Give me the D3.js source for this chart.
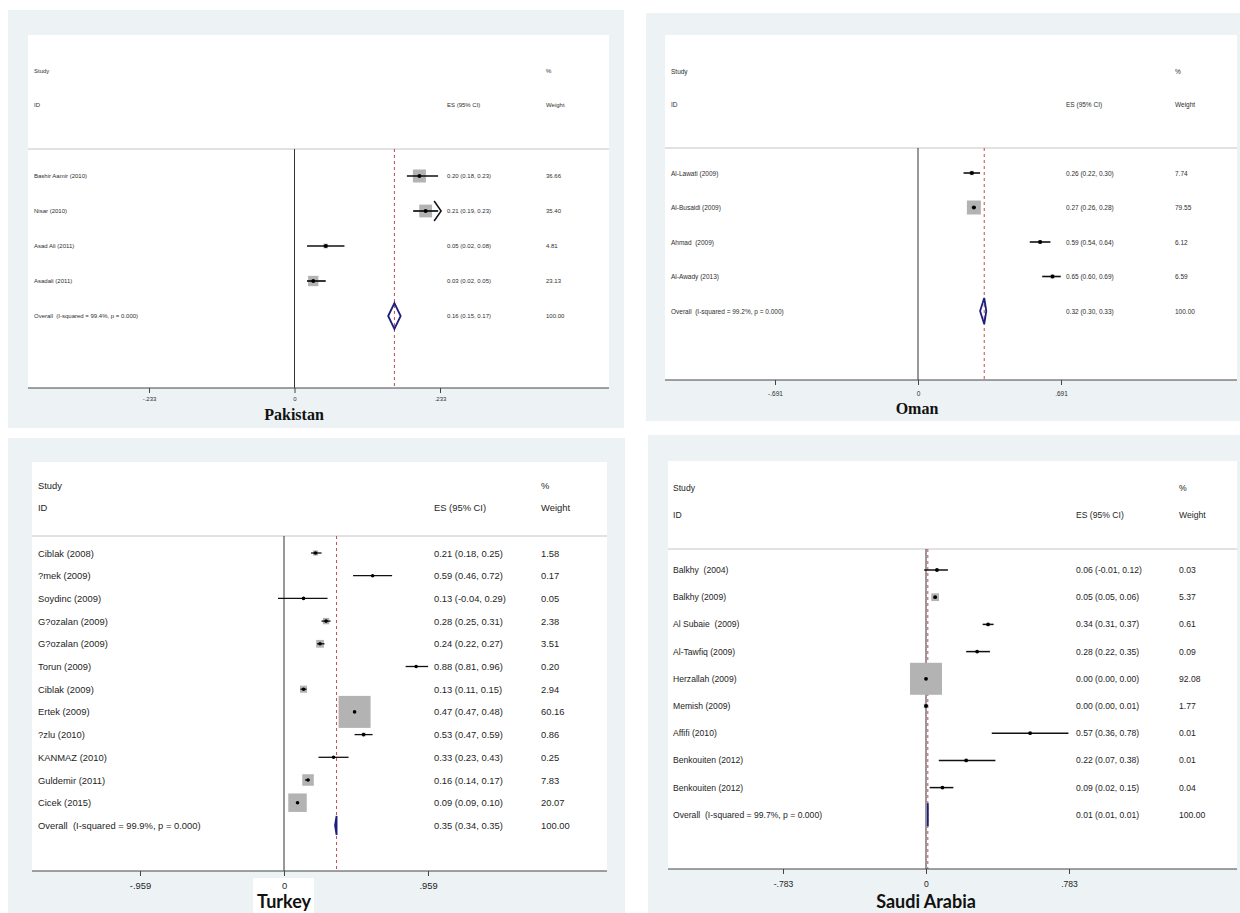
<!DOCTYPE html>
<html>
<head>
<meta charset="utf-8">
<script src="https://cdn.jsdelivr.net/npm/d3@7"></script>
<style>
  body { margin: 0; background: #fff; }
  svg text { white-space: pre; }
</style>
</head>
<body>
<svg id="chart" width="1240" height="913"></svg>
<script>
// ---- Pakistan
const pakStudies = ["Bashir Aamir (2010)", "Nisar (2010)", "Asad Ali (2011)", "Asadali (2011)"];
const pakES = [0.20, 0.21, 0.05, 0.03];
const pakLo = [0.18, 0.19, 0.02, 0.02];
const pakHi = [0.23, 0.23, 0.08, 0.05];
const pakWeight = [36.66, 35.40, 4.81, 23.13];
const pakClipped = [0, 1, 0, 0]; // CI drawn with an arrow
const pakOverall = [0.16, 0.15, 0.17];
const pakOverallWeight = 100.00;
const pakOverallLabel = "Overall  (I-squared = 99.4%, p = 0.000)";
const pakTicks = [-0.233, 0, 0.233];
const pakTickLabels = ["-.233", "0", ".233"];

// ---- Oman
const omaStudies = ["Al-Lawati (2009)", "Al-Busaidi (2009)", "Ahmad  (2009)", "Al-Awady (2013)"];
const omaES = [0.26, 0.27, 0.59, 0.65];
const omaLo = [0.22, 0.26, 0.54, 0.60];
const omaHi = [0.30, 0.28, 0.64, 0.69];
const omaWeight = [7.74, 79.55, 6.12, 6.59];
const omaOverall = [0.32, 0.30, 0.33];
const omaOverallWeight = 100.00;
const omaOverallLabel = "Overall  (I-squared = 99.2%, p = 0.000)";
const omaTicks = [-0.691, 0, 0.691];
const omaTickLabels = ["-.691", "0", ".691"];

// ---- Turkey
const turStudies = ["Ciblak (2008)", "?mek (2009)", "Soydinc (2009)", "G?ozalan (2009)", "G?ozalan (2009)",
  "Torun (2009)", "Ciblak (2009)", "Ertek (2009)", "?zlu (2010)", "KANMAZ (2010)", "Guldemir (2011)", "Cicek (2015)"];
const turES = [0.21, 0.59, 0.13, 0.28, 0.24, 0.88, 0.13, 0.47, 0.53, 0.33, 0.16, 0.09];
const turLo = [0.18, 0.46, -0.04, 0.25, 0.22, 0.81, 0.11, 0.47, 0.47, 0.23, 0.14, 0.09];
const turHi = [0.25, 0.72, 0.29, 0.31, 0.27, 0.96, 0.15, 0.48, 0.59, 0.43, 0.17, 0.10];
const turWeight = [1.58, 0.17, 0.05, 2.38, 3.51, 0.20, 2.94, 60.16, 0.86, 0.25, 7.83, 20.07];
const turOverall = [0.35, 0.34, 0.35];
const turOverallWeight = 100.00;
const turOverallLabel = "Overall  (I-squared = 99.9%, p = 0.000)";
const turTicks = [-0.959, 0, 0.959];
const turTickLabels = ["-.959", "0", ".959"];

// ---- Saudi Arabia
const sauStudies = ["Balkhy  (2004)", "Balkhy (2009)", "Al Subaie  (2009)", "Al-Tawfiq (2009)", "Herzallah (2009)",
  "Memish (2009)", "Affifi (2010)", "Benkouiten (2012)", "Benkouiten (2012)"];
const sauES = [0.06, 0.05, 0.34, 0.28, 0.00, 0.00, 0.57, 0.22, 0.09];
const sauLo = [-0.01, 0.05, 0.31, 0.22, 0.00, 0.00, 0.36, 0.07, 0.02];
const sauHi = [0.12, 0.06, 0.37, 0.35, 0.00, 0.01, 0.78, 0.38, 0.15];
const sauWeight = [0.03, 5.37, 0.61, 0.09, 92.08, 1.77, 0.01, 0.01, 0.04];
const sauOverall = [0.01, 0.01, 0.01];
const sauOverallWeight = 100.00;
const sauOverallLabel = "Overall  (I-squared = 99.7%, p = 0.000)";
const sauTicks = [-0.783, 0, 0.783];
const sauTickLabels = ["-.783", "0", ".783"];

const f2 = d3.formatLocale({decimal: ".", thousands: ",", grouping: [3], currency: ["", ""], minus: "-"}).format(".2f");
const SANS = '"Liberation Sans", Arial, sans-serif';

const panels = [
  {studies: pakStudies, es: pakES, lo: pakLo, hi: pakHi, weight: pakWeight, clipped: pakClipped,
   overall: pakOverall, overallWeight: pakOverallWeight, overallLabel: pakOverallLabel,
   ticks: pakTicks, tickLabels: pakTickLabels,
   bg: [8, 10, 624, 428], plot: [28, 35, 609, 388], sepY: 149, studyY: 71, idY: 105,
   rowY0: 176, rowStep: 35, xRange: [149, 440], labelX: 34, esX: 447, wX: 546,
   font: 6, textColor: "#2e2e2e", tickDy: 11, maxBox: 13, diamondH: 13, ciW: 1.7, dotR: 2,
   title: "Pakistan", titleX: 294, titleY: 414, titleFont: 'bold 16px "Liberation Serif", "Times New Roman", serif'},
  {studies: omaStudies, es: omaES, lo: omaLo, hi: omaHi, weight: omaWeight,
   overall: omaOverall, overallWeight: omaOverallWeight, overallLabel: omaOverallLabel,
   ticks: omaTicks, tickLabels: omaTickLabels,
   bg: [646, 13, 1240, 421], plot: [665, 35, 1237, 380], sepY: 148, studyY: 71, idY: 104,
   rowY0: 173, rowStep: 34.5, xRange: [775, 1061], labelX: 671, esX: 1066, wX: 1175,
   font: 6.5, textColor: "#2e2e2e", tickDy: 14, maxBox: 14, diamondH: 13, ciW: 1.6, dotR: 1.9,
   title: "Oman", titleX: 917, titleY: 408, titleFont: 'bold 16px "Liberation Serif", "Times New Roman", serif'},
  {studies: turStudies, es: turES, lo: turLo, hi: turHi, weight: turWeight,
   overall: turOverall, overallWeight: turOverallWeight, overallLabel: turOverallLabel,
   ticks: turTicks, tickLabels: turTickLabels,
   bg: [8, 438, 625, 913], plot: [32, 462, 607, 871], sepY: 536, studyY: 485, idY: 507,
   rowY0: 553, rowStep: 22.7, xRange: [140, 428], labelX: 38, esX: 434, wX: 541,
   font: 9.4, textColor: "#1e1e1e", tickDy: 15, maxBox: 32, diamondH: 9.5, ciW: 1.3, dotR: 1.8,
   titlePatch: [253, 878, 314, 913],
   title: "Turkey", titleX: 284, titleY: 901, titleFont: 'bold 18px Lato, "Open Sans", sans-serif'},
  {studies: sauStudies, es: sauES, lo: sauLo, hi: sauHi, weight: sauWeight,
   overall: sauOverall, overallWeight: sauOverallWeight, overallLabel: sauOverallLabel,
   ticks: sauTicks, tickLabels: sauTickLabels,
   bg: [648, 435, 1240, 913], plot: [668, 461, 1237, 869], sepY: 549, studyY: 488, idY: 515,
   rowY0: 570, rowStep: 27.2, xRange: [783, 1069], labelX: 673, esX: 1076, wX: 1179,
   font: 8.6, textColor: "#1e1e1e", tickDy: 15, maxBox: 32, diamondH: 11.5, ciW: 1.5, dotR: 1.9,
   title: "Saudi Arabia", titleX: 926, titleY: 901, titleFont: 'bold 18px Lato, "Open Sans", sans-serif'}
];

const svg = d3.select("#chart");

function drawPanel(p) {
  const g = svg.append("g");
  const [px0, py0, px1, py1] = p.plot;
  const axisY = py1;

  // graph region and plot region
  g.append("rect").attr("x", p.bg[0]).attr("y", p.bg[1])
    .attr("width", p.bg[2] - p.bg[0]).attr("height", p.bg[3] - p.bg[1]).attr("fill", "#edf2f5");
  g.append("rect").attr("x", px0).attr("y", py0)
    .attr("width", px1 - px0).attr("height", py1 - py0).attr("fill", "#fff");

  const x = d3.scaleLinear().domain([p.ticks[0], p.ticks[2]]).range(p.xRange);
  const n = p.studies.length;
  const y = d3.scaleLinear().domain([0, 1]).range([p.rowY0, p.rowY0 + p.rowStep]);
  const box = d3.scaleSqrt().domain([0, d3.max(p.weight)]).range([0, p.maxBox]);

  const txt = (s, tx, ty) => g.append("text").attr("x", tx).attr("y", ty)
    .attr("dominant-baseline", "central").attr("font-family", SANS)
    .attr("font-size", p.font).attr("fill", p.textColor).text(s);

  // header
  g.append("line").attr("x1", px0).attr("x2", px1).attr("y1", p.sepY).attr("y2", p.sepY)
    .attr("stroke", "#c4c4c4").attr("stroke-width", 1);
  txt("Study", p.labelX, p.studyY);
  txt("ID", p.labelX, p.idY);
  txt("ES (95% CI)", p.esX, p.idY);
  txt("%", p.wX, p.studyY);
  txt("Weight", p.wX, p.idY);

  // null line and overall line
  g.append("line").attr("x1", x(0)).attr("x2", x(0)).attr("y1", p.sepY).attr("y2", axisY)
    .attr("stroke", "#333").attr("stroke-width", 1);
  g.append("line").attr("x1", x(p.overall[0])).attr("x2", x(p.overall[0]))
    .attr("y1", p.sepY).attr("y2", axisY)
    .attr("stroke", "#bf4b55").attr("stroke-width", 1).attr("stroke-dasharray", "3,3");

  const rows = d3.range(n).map(i => ({
    i, label: p.studies[i], es: p.es[i], lo: p.lo[i], hi: p.hi[i], w: p.weight[i],
    clipped: p.clipped ? p.clipped[i] : 0
  }));

  // weight boxes
  g.selectAll(".box").data(rows).enter().append("rect")
    .attr("x", d => x(d.es) - box(d.w) / 2).attr("y", d => y(d.i) - box(d.w) / 2)
    .attr("width", d => box(d.w)).attr("height", d => box(d.w))
    .attr("fill", "#b3b3b3");

  // confidence intervals
  g.selectAll(".ci").data(rows).enter().append("line")
    .attr("x1", d => x(d.lo)).attr("x2", d => x(d.hi))
    .attr("y1", d => y(d.i)).attr("y2", d => y(d.i))
    .attr("stroke", "#111").attr("stroke-width", p.ciW);

  g.selectAll(".arrow").data(rows.filter(d => d.clipped)).enter().append("path")
    .attr("d", d => `M${x(d.hi) - 4},${y(d.i) - 10} L${x(d.hi) + 3},${y(d.i)} L${x(d.hi) - 4},${y(d.i) + 10}`)
    .attr("fill", "none").attr("stroke", "#111").attr("stroke-width", 1.5);

  g.selectAll(".dot").data(rows).enter().append("circle")
    .attr("cx", d => x(d.es)).attr("cy", d => y(d.i)).attr("r", p.dotR).attr("fill", "#000");

  // row texts
  rows.forEach(d => {
    txt(d.label, p.labelX, y(d.i));
    txt(`${f2(d.es)} (${f2(d.lo)}, ${f2(d.hi)})`, p.esX, y(d.i));
    txt(f2(d.w), p.wX, y(d.i));
  });

  // overall diamond
  const oy = y(n);
  const [oe, ol, oh] = p.overall;
  g.append("path")
    .attr("d", `M${x(ol)},${oy} L${x(oe)},${oy - p.diamondH} L${x(oh)},${oy} L${x(oe)},${oy + p.diamondH} Z`)
    .attr("fill", "none").attr("stroke", "#1d1d7e").attr("stroke-width", 1.8)
    .attr("stroke-linejoin", "miter");
  txt(p.overallLabel, p.labelX, oy);
  txt(`${f2(oe)} (${f2(ol)}, ${f2(oh)})`, p.esX, oy);
  txt(f2(p.overallWeight), p.wX, oy);

  // x axis
  if (p.titlePatch) {
    const [a, b, c, e] = p.titlePatch;
    g.append("rect").attr("x", a).attr("y", b).attr("width", c - a).attr("height", e - b).attr("fill", "#fff");
  }
  g.append("line").attr("x1", px0).attr("x2", px1).attr("y1", axisY).attr("y2", axisY)
    .attr("stroke", "#444").attr("stroke-width", 1);
  const tickFont = p.font;
  const ax = g.append("g").attr("transform", `translate(0,${axisY})`)
    .call(d3.axisBottom(x).tickValues(p.ticks).tickFormat((v, i) => p.tickLabels[i])
      .tickSize(5).tickPadding(p.tickDy - 5 - 0.35 * tickFont));
  ax.select(".domain").remove();
  ax.selectAll("line").attr("stroke", "#444");
  ax.selectAll("text").attr("font-family", SANS).attr("font-size", tickFont).attr("fill", p.textColor);

  // title
  g.append("text").attr("x", p.titleX).attr("y", p.titleY).attr("text-anchor", "middle")
    .attr("dominant-baseline", "central").style("font", p.titleFont).attr("fill", "#111").text(p.title);
}

panels.forEach(drawPanel);
</script>
</body>
</html>
